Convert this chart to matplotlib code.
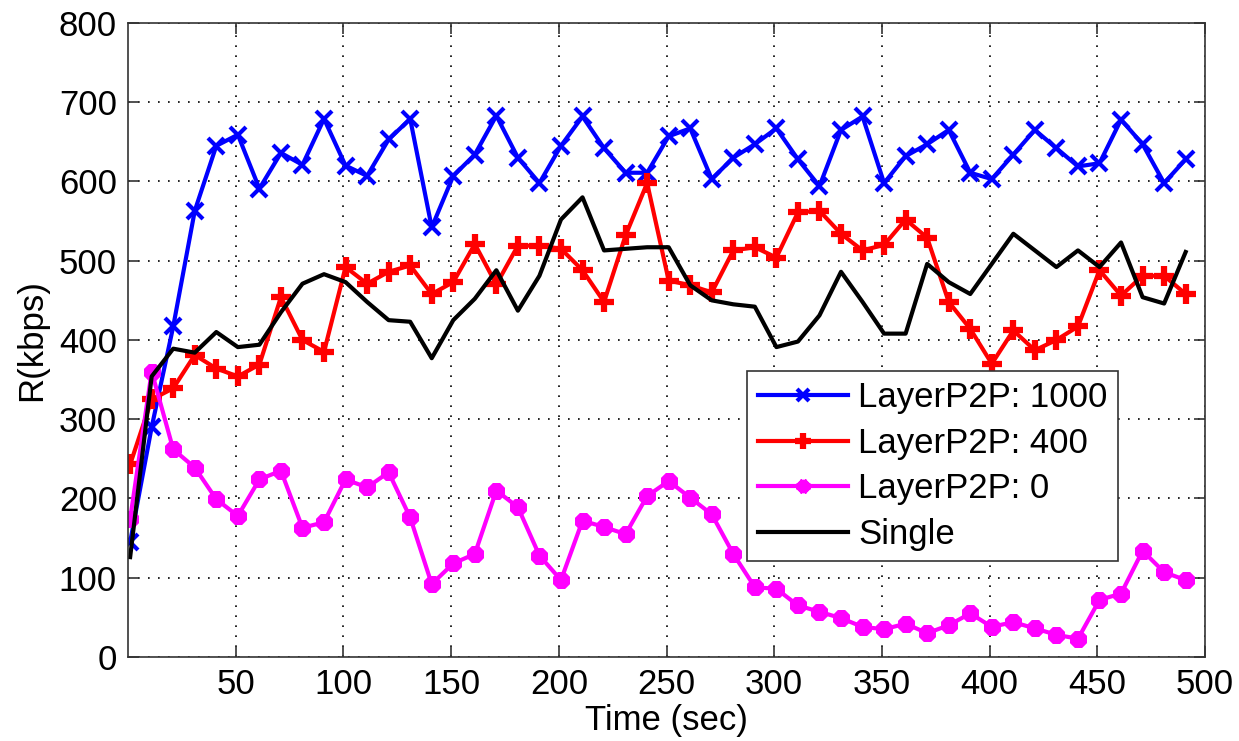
import matplotlib
matplotlib.use("Agg")
import matplotlib.pyplot as plt

plt.rcParams["font.family"] = ["Liberation Sans", "DejaVu Sans"]

# sample times (sec)
t = list(range(1, 500, 10))

layer_1000 = [145, 290, 417, 563, 645, 659, 591, 636, 621, 679,
              620, 607, 653, 679, 542, 607, 634, 683, 630, 598,
              645, 682, 642, 611, 611, 657, 667, 603, 630, 647,
              667, 628, 594, 665, 682, 598, 632, 647, 665, 611,
              603, 634, 665, 642, 619, 623, 678, 647, 598, 628]

layer_400 = [243, 325, 339, 381, 364, 354, 369, 454, 400, 385,
             492, 471, 486, 494, 458, 473, 521, 470, 519, 519,
             515, 488, 448, 532, 598, 475, 469, 460, 513, 517,
             504, 561, 563, 534, 513, 520, 552, 529, 448, 414,
             370, 412, 387, 400, 417, 488, 456, 481, 481, 458]

layer_0 = [174, 360, 262, 239, 199, 178, 224, 235, 163, 170,
           224, 214, 233, 176, 92, 118, 130, 210, 189, 128,
           97, 172, 164, 155, 203, 222, 201, 180, 130, 88,
           86, 65, 57, 49, 38, 35, 42, 30, 40, 55,
           38, 44, 36, 28, 23, 72, 80, 134, 107, 97]

single = [126, 354, 389, 384, 410, 391, 394, 435, 471, 483,
          473, 448, 425, 423, 377, 425, 452, 488, 437, 481,
          552, 580, 513, 515, 517, 517, 469, 450, 445, 442,
          391, 398, 431, 486, 448, 408, 408, 496, 473, 458,
          496, 534, 513, 492, 513, 492, 523, 454, 446, 511]

fig = plt.figure(figsize=(12.39, 7.41), dpi=100)
ax = fig.add_axes([0.1033, 0.1134, 0.8693, 0.8556])

ax.plot(t, layer_1000, color="blue", lw=3, marker="x", ms=11, mew=3,
        label="LayerP2P: 1000")
ax.plot(t, layer_400, color="red", lw=3, marker="+", ms=15, mew=4.5,
        label="LayerP2P: 400")
ax.plot(t, layer_0, color="magenta", lw=3, marker=(8, 2, 0), ms=12, mew=5,
        label="LayerP2P: 0")
ax.plot(t, single, color="black", lw=3, label="Single")

ax.set_xlim(0, 500)
ax.set_ylim(0, 800)
ax.set_xticks(range(50, 501, 50))
ax.set_yticks(range(0, 801, 100))
ax.tick_params(direction="in", length=8, width=1.2, labelsize=25, pad=8,
               top=True, right=True, colors="#333333", labelcolor="black")
for s in ax.spines.values():
    s.set_color("#333333")
    s.set_linewidth(1.2)
ax.grid(True, color="black", linestyle=(0, (1, 5)), linewidth=1.2)

ax.set_xlabel("Time (sec)", fontsize=25, labelpad=2)
ax.set_ylabel("R(kbps)", fontsize=25, labelpad=8)

leg = ax.legend(loc="upper left", bbox_to_anchor=(0.575, 0.451), fontsize=25,
                fancybox=False, framealpha=1, edgecolor="#333333",
                borderpad=0.3, labelspacing=0.36, handlelength=2.6,
                handletextpad=0.3, borderaxespad=0, markerscale=0.8)
leg.get_frame().set_linewidth(1.2)

fig.savefig("out.png", dpi=100)
